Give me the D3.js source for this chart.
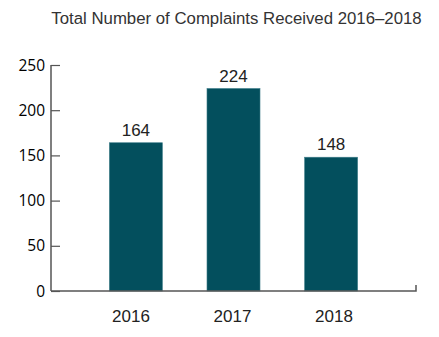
<!DOCTYPE html>
<html>
<head>
<meta charset="utf-8">
<script src="https://cdn.jsdelivr.net/npm/d3@7"></script>
<style>
  html, body { margin: 0; padding: 0; background: #fff; }
  svg { display: block; }
</style>
</head>
<body>
<svg id="chart" width="439" height="337"></svg>
<script>
// Complaints received per year
const years = ["2016", "2017", "2018"];
const complaints = [164, 224, 148];
const yTicks = [0, 50, 100, 150, 200, 250];
const title = "Total Number of Complaints Received 2016\u20132018";

(function () {
  const svg = d3.select("#chart");
  const plotLeft = 51, plotRight = 416, plotTop = 65, plotBottom = 291;
  const axisColor = "#555";
  const barColor = "#034f5d";

  const x = d3.scaleBand()
    .domain(years)
    .range([plotLeft, plotRight])
    .paddingInner(0.457)
    .paddingOuter(0.598);

  // category labels sit on their own slightly wider spacing
  const xLabel = d3.scalePoint().domain(years).range([131, 334]);

  const y = d3.scaleLinear().domain([0, 250]).range([plotBottom, plotTop]);

  const rows = years.map((yr, i) => ({ yr, v: complaints[i] }));

  // Title
  svg.append("text")
    .attr("x", 236.5).attr("y", 24)
    .attr("text-anchor", "middle")
    .attr("font-family", "Liberation Sans, Arial, sans-serif")
    .attr("font-size", 16.8)
    .attr("fill", "#333")
    .text(title);

  // Bars
  svg.append("g").selectAll("rect")
    .data(rows)
    .join("rect")
    .attr("x", d => x(d.yr))
    .attr("y", d => y(d.v))
    .attr("width", x.bandwidth())
    .attr("height", d => y(0) - y(d.v))
    .attr("fill", barColor)
    .attr("stroke", "#3f7e8a")
    .attr("stroke-width", 0.6);

  // Value labels
  svg.append("g").selectAll("text")
    .data(rows)
    .join("text")
    .attr("x", d => x(d.yr) + x.bandwidth() / 2)
    .attr("y", d => y(d.v) - 7)
    .attr("text-anchor", "middle")
    .attr("font-family", "Liberation Sans, Arial, sans-serif")
    .attr("font-size", 17)
    .attr("fill", "#222")
    .text(d => d.v);

  // Y axis (ticks point inward)
  const yAxis = d3.axisRight(y).tickValues(yTicks).tickSize(9).tickFormat("");
  const yg = svg.append("g").attr("transform", `translate(${plotLeft},0)`).call(yAxis);
  yg.select(".domain").remove();
  yg.selectAll("line").attr("stroke", axisColor).attr("stroke-width", 1.2);
  svg.append("line")
    .attr("x1", plotLeft).attr("x2", plotLeft)
    .attr("y1", y(250)).attr("y2", y(0))
    .attr("stroke", axisColor).attr("stroke-width", 1.5);

  svg.append("g").selectAll("text")
    .data(yTicks)
    .join("text")
    .attr("x", 45)
    .attr("y", d => y(d) + 5.5)
    .attr("text-anchor", "end")
    .attr("font-family", "Open Sans, DejaVu Sans, sans-serif")
    .attr("font-size", 15.5)
    .attr("fill", "#000")
    .text(d => d);

  // X axis baseline with a small end tick
  svg.append("path")
    .attr("d", `M${plotLeft},${y(0)}H${plotRight}V${y(0) - 6}`)
    .attr("fill", "none")
    .attr("stroke", axisColor)
    .attr("stroke-width", 1.5);

  // Year labels
  svg.append("g").selectAll("text")
    .data(years)
    .join("text")
    .attr("x", d => xLabel(d))
    .attr("y", 322)
    .attr("text-anchor", "middle")
    .attr("font-family", "Liberation Sans, Arial, sans-serif")
    .attr("font-size", 17)
    .attr("fill", "#222")
    .text(d => d);
})();
</script>
</body>
</html>
